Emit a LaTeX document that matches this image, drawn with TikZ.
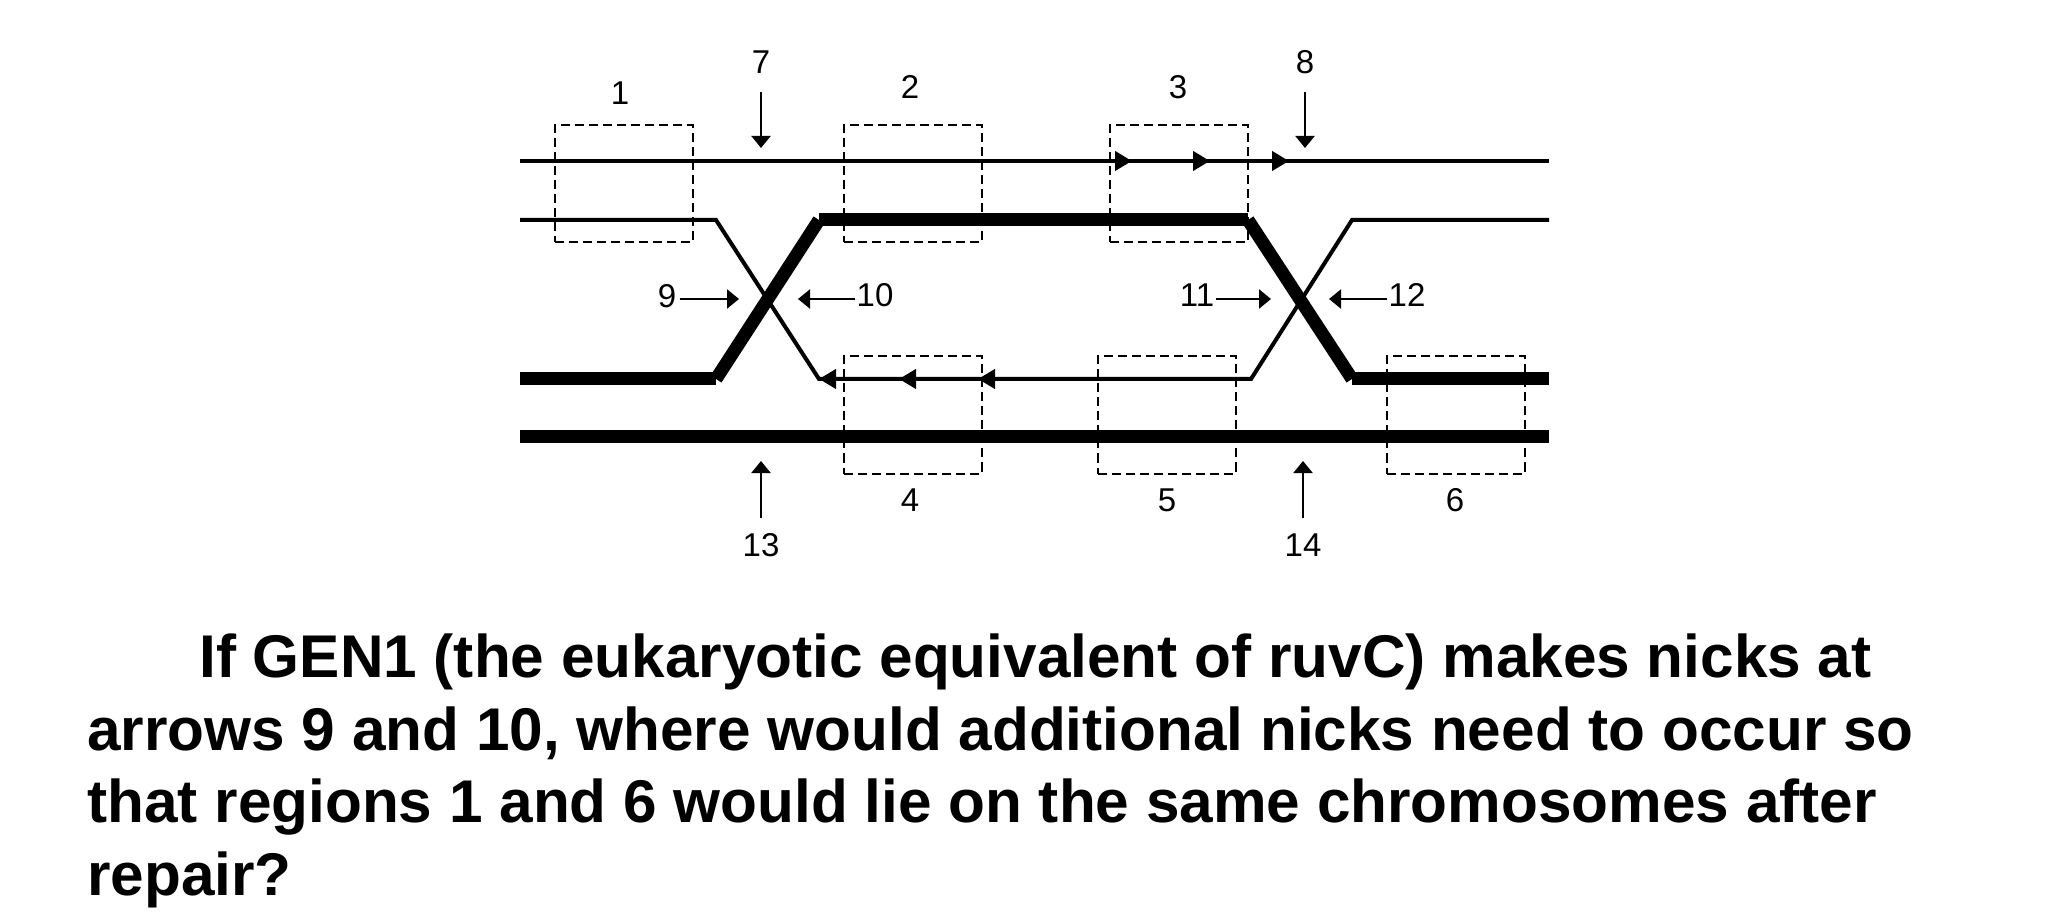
\documentclass[tikz,border=0pt]{standalone}
\usepackage{fontspec}
\setmainfont{Liberation Sans}
\usetikzlibrary{arrows.meta}
\begin{document}
\begin{tikzpicture}[x=0.5pt,y=-0.5pt,
  thinstrand/.style={line width=2pt, line join=miter},
  thickstrand/.style={line width=6.5pt, line cap=butt},
  regionbox/.style={draw, line width=1pt, dash pattern=on 4.5pt off 2.5pt, inner sep=0pt, minimum width=69pt, minimum height=58.5pt},
  pointer/.style={line width=1.1pt, -{Triangle[length=6pt,width=9.5pt]}},
  dirtip/.style={line width=2pt, -{Triangle[length=8.5pt,width=9.5pt]}},
  num/.style={font=\fontsize{16.5}{19}\selectfont, inner sep=0pt},
  question/.style={font=\fontsize{30.15}{36}\selectfont\bfseries, inner sep=0pt, anchor=base west}]
\useasboundingbox (0,0) rectangle (2048,924);

% strand coordinates
\coordinate (A0) at (520,161); \coordinate (A1) at (1549,161);
\coordinate (B0) at (520,220); \coordinate (B1) at (716,220); \coordinate (B2) at (819,379);
\coordinate (B3) at (1251,379); \coordinate (B4) at (1352,220); \coordinate (B5) at (1549,220);
\coordinate (C0) at (520,379); \coordinate (C1) at (716,379); \coordinate (C2) at (819,220);
\coordinate (C3) at (1248,220); \coordinate (C4) at (1352,379); \coordinate (C5) at (1549,379);
\coordinate (D0) at (520,437); \coordinate (D1) at (1549,437);

% thin strands
\draw[thinstrand] (A0) -- (A1);
\draw[thinstrand] (B0) -- (B1) -- (B2) -- (B3) -- (B4) -- (B5);
% thick strands
\draw[thickstrand] (C0) -- (C1);
\draw[thickstrand] (C1) -- (C2);
\draw[thickstrand] (C2) -- (C3);
\draw[thickstrand] (C3) -- (C4);
\draw[thickstrand] (C4) -- (C5);
\draw[thickstrand] (D0) -- (D1);

% direction arrowheads
\coordinate (ta1) at (1132,161); \coordinate (ta2) at (1210,161); \coordinate (ta3) at (1289,161);
\draw[dirtip] ([xshift=-20pt]ta1) -- (ta1);
\draw[dirtip] ([xshift=-20pt]ta2) -- (ta2);
\draw[dirtip] ([xshift=-20pt]ta3) -- (ta3);
\coordinate (tb1) at (819,379); \coordinate (tb2) at (899,379); \coordinate (tb3) at (978,379);
\draw[dirtip] ([xshift=20pt]tb1) -- (tb1);
\draw[dirtip] ([xshift=20pt]tb2) -- (tb2);
\draw[dirtip] ([xshift=20pt]tb3) -- (tb3);

% region boxes
\node[regionbox] (r1) at (624,183.5) {};
\node[regionbox] (r2) at (913,183.5) {};
\node[regionbox] (r3) at (1178.5,183.5) {};
\node[regionbox] (r4) at (913,415) {};
\node[regionbox] (r5) at (1166.5,415) {};
\node[regionbox] (r6) at (1455.5,415) {};

% labels
\node[num] (l1) at (620,93) {1};
\node[num] (l2) at (910,87) {2};
\node[num] (l3) at (1178,87) {3};
\node[num] (l4) at (910,500) {4};
\node[num] (l5) at (1167,500) {5};
\node[num] (l6) at (1455,500) {6};
\node[num] (l7) at (761,62) {7};
\node[num] (l8) at (1305,62) {8};
\node[num] (l9) at (667,296) {9};
\node[num] (l10) at (875,295) {10};
\node[num] (l11) at (1197,295) {11};
\node[num] (l12) at (1407,295) {12};
\node[num] (l13) at (761,545) {13};
\node[num] (l14) at (1303,545) {14};

% pointer arrows
\coordinate (p7) at (761,148); \coordinate (p8) at (1305,148);
\draw[pointer] (761,92) -- (p7);
\draw[pointer] (1305,92) -- (p8);
\coordinate (p9) at (739,299); \coordinate (p10) at (798,299);
\coordinate (p11) at (1271,299); \coordinate (p12) at (1329,299);
\draw[pointer] (l9.east) ++(3,0) coordinate (s9) (s9|-p9) -- (p9);
\draw[pointer] (l10.west) ++(-1,0) coordinate (s10) (s10|-p10) -- (p10);
\draw[pointer] (l11.east) ++(1,0) coordinate (s11) (s11|-p11) -- (p11);
\draw[pointer] (l12.west) ++(-1,0) coordinate (s12) (s12|-p12) -- (p12);
\coordinate (p13) at (761,461); \coordinate (p14) at (1303,461);
\draw[pointer] (761,518) -- (p13);
\draw[pointer] (1303,518) -- (p14);

% question text
\node[question] (q1) at (199,677) {If GEN1 (the eukaryotic equivalent of ruvC) makes nicks at};
\node[question] (q2) at (87,750) {arrows 9 and 10, where would additional nicks need to occur so};
\node[question] (q3) at (87,822) {that regions 1 and 6 would lie on the same chromosomes after};
\node[question] (q4) at (87,895) {repair?};
\end{tikzpicture}
\end{document}
